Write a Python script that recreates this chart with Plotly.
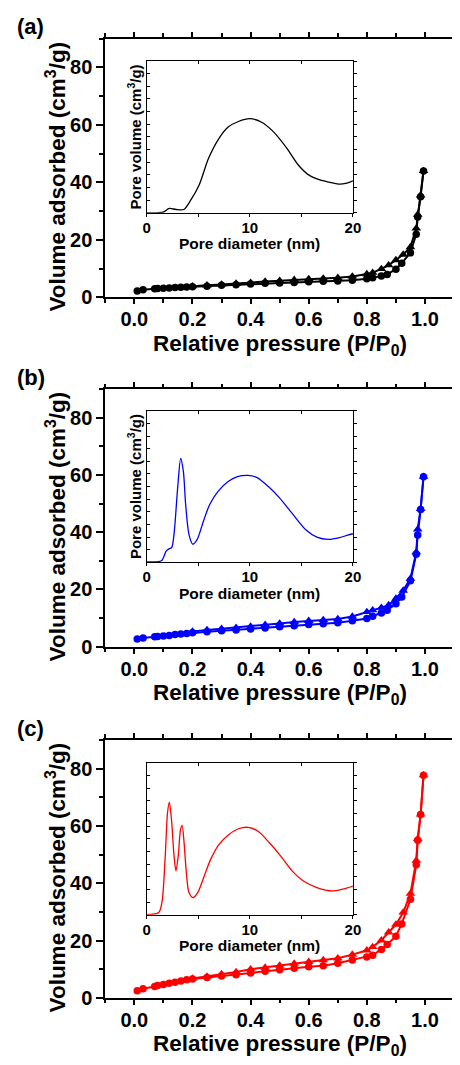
import plotly.graph_objects as go

W, H = 460, 1065

# Relative pressure points (P/P0) of the adsorption and desorption branches
p_ads = [0.01, 0.03, 0.07, 0.08, 0.10, 0.12, 0.14, 0.16, 0.18, 0.20, 0.25, 0.30,
         0.35, 0.40, 0.45, 0.50, 0.55, 0.60, 0.65, 0.70, 0.75, 0.80, 0.82, 0.85,
         0.87, 0.90, 0.92, 0.95, 0.97, 0.975, 0.985, 0.995]
p_des = [0.995, 0.985, 0.975, 0.97, 0.95, 0.925, 0.90, 0.875, 0.85, 0.82, 0.80,
         0.75, 0.70, 0.65, 0.60, 0.55, 0.50, 0.45, 0.40, 0.35, 0.30, 0.25, 0.20]

# Volume adsorbed (cm3/g)
ads_a = [2.2, 2.7, 3.0, 3.1, 3.2, 3.3, 3.4, 3.5, 3.6, 3.7, 3.9, 4.2, 4.4, 4.7, 4.9,
         5.0, 5.2, 5.4, 5.6, 5.7, 6.0, 6.5, 6.8, 7.4, 8.0, 9.8, 11.9, 15.5, 22.0,
         28.0, 35.0, 44.0]
des_a = [44.0, 35.5, 28.8, 24.0, 17.5, 14.9, 13.0, 11.2, 9.9, 8.6, 8.1, 7.3, 6.8,
         6.6, 6.4, 6.1, 5.8, 5.5, 5.1, 4.8, 4.5, 4.2, 3.9]

ads_b = [2.6, 3.0, 3.4, 3.5, 3.7, 3.9, 4.2, 4.4, 4.6, 4.8, 5.2, 5.5, 5.8, 6.1, 6.5,
         6.9, 7.3, 7.7, 8.0, 8.3, 9.0, 9.8, 10.6, 11.7, 12.7, 15.0, 17.3, 23.0,
         32.3, 39.0, 47.9, 59.4]
des_b = [59.4, 48.2, 41.0, 33.0, 23.8, 19.6, 16.8, 14.5, 13.6, 12.7, 12.1, 10.5,
         9.6, 9.3, 9.0, 8.6, 8.1, 7.6, 7.0, 6.6, 6.2, 5.8, 5.3]

ads_c = [2.5, 3.2, 4.0, 4.3, 4.7, 5.1, 5.5, 5.9, 6.3, 6.6, 7.1, 7.6, 8.1, 8.7, 9.3,
         9.8, 10.3, 10.9, 11.2, 12.1, 13.2, 14.3, 14.9, 16.9, 18.6, 21.5, 25.8,
         34.4, 46.5, 55.0, 64.0, 77.7]
des_c = [77.7, 64.0, 55.5, 47.9, 36.4, 29.8, 25.6, 22.9, 20.1, 17.8, 16.6, 15.1,
         13.8, 13.2, 12.6, 12.0, 11.3, 10.6, 10.0, 9.0, 8.3, 7.5, 6.8]

# Pore size distributions (pore diameter in nm, pore volume in arbitrary units)
d_a = [0, 1.0, 1.6, 2.2, 2.85, 3.6, 4.3, 5.1, 6.0, 7.0, 7.9, 8.9, 10.0, 11.1, 12.3,
       13.6, 14.7, 15.7, 16.8, 17.7, 18.6, 19.3, 20]
pv_a = [0, 0, 0.05, 0.34, 0.26, 0.26, 1.04, 2.22, 4.31, 5.87, 6.78, 7.22, 7.44,
        7.18, 6.40, 5.09, 3.78, 3.00, 2.60, 2.42, 2.27, 2.32, 2.53]

d_b = [0, 1.42, 1.9, 2.2, 2.43, 2.68, 3.0, 3.3, 3.56, 3.78, 4.1, 4.47, 4.9, 5.5,
       6.1, 6.9, 7.9, 8.8, 9.8, 10.7, 11.8, 12.9, 14.2, 15.4, 16.5, 17.6, 18.7,
       19.5, 20]
pv_b = [0.05, 0.13, 0.91, 1.09, 1.18, 2.48, 5.87, 8.22, 7.18, 4.56, 2.22, 1.44,
        1.82, 3.26, 4.56, 5.60, 6.40, 6.78, 6.89, 6.71, 6.00, 5.09, 3.78, 2.60,
        2.00, 1.82, 1.96, 2.16, 2.27]

d_c = [0, 1.17, 1.48, 1.8, 2.02, 2.2, 2.43, 2.65, 2.84, 3.06, 3.28, 3.44, 3.63,
       3.85, 4.1, 4.48, 4.95, 5.58, 6.2, 7.0, 7.95, 8.9, 9.84, 10.8, 11.9, 13.0,
       14.1, 15.2, 16.5, 18.0, 19.0, 20]
pv_c = [0, 0.18, 0.97, 4.63, 8.03, 8.89, 7.27, 4.66, 3.46, 4.63, 6.72, 7.06, 5.65,
        3.30, 1.75, 1.36, 1.75, 3.06, 4.37, 5.54, 6.32, 6.79, 6.90, 6.59, 5.68,
        4.63, 3.46, 2.66, 2.15, 1.88, 2.02, 2.27]

panel_labels = ["(a)", "(b)", "(c)"]
colors = ["#000000", "#0000FF", "#FF0000"]

FONT = "Liberation Sans, Arial, sans-serif"
P_RANGE = [-0.1, 1.093]
V_RANGE = [0, 90]
D_RANGE = [0, 20]
PV_RANGE = [0, 12]


def fx(px):
    return px / W


def fy(px):
    return 1 - px / H


# pixel boxes of the panels: main (top, bottom), inset (top, bottom)
main_box = [(39.0, 300.5), (393.3, 653.3), (747.7, 1008.3)]
inset_box = [(61.7, 215.0), (415.0, 568.3), (770.7, 924.3)]
main_left, main_right = 104.0, 460.0
inset_left, inset_right = 146.5, 358.3

panels = [
    (ads_a, des_a, d_a, pv_a),
    (ads_b, des_b, d_b, pv_b),
    (ads_c, des_c, d_c, pv_c),
]

fig = go.Figure()
layout = {}
annotations = []


def bold(size):
    return dict(family=FONT, size=size, color="black", weight="bold")


for i, (ads, des, dd, pv) in enumerate(panels):
    col = colors[i]
    mname = "" if i == 0 else str(2 * i + 1)   # main isotherm axes
    iname = str(2 * i + 2)                      # inset axes
    oname = str(7 + i)                          # inset top/right frame axes

    # isotherm: adsorption (circles) and desorption (triangles)
    fig.add_trace(go.Scatter(
        x=p_ads, y=ads, mode="lines+markers",
        line=dict(color=col, width=2),
        marker=dict(symbol="circle", size=7.5, color=col),
        xaxis="x" + mname, yaxis="y" + mname, showlegend=False))
    fig.add_trace(go.Scatter(
        x=p_des, y=des, mode="lines+markers",
        line=dict(color=col, width=2),
        marker=dict(symbol="triangle-up", size=8.5, color=col),
        xaxis="x" + mname, yaxis="y" + mname, showlegend=False))
    # pore size distribution
    fig.add_trace(go.Scatter(
        x=dd, y=pv, mode="lines",
        line=dict(color=col, width=1.3, shape="spline", smoothing=0.8),
        xaxis="x" + iname, yaxis="y" + iname, showlegend=False))
    # empty trace that carries the inset's top and right frame axes
    fig.add_trace(go.Scatter(
        x=[], y=[], mode="lines", hoverinfo="skip",
        xaxis="x" + oname, yaxis="y" + oname, showlegend=False))

    mt, mb = main_box[i]
    it, ib = inset_box[i]

    layout["xaxis" + mname] = dict(
        domain=[fx(main_left), fx(main_right)], range=P_RANGE,
        anchor="y" + mname, dtick=0.2, tick0=0, tickformat=".1f",
        ticks="outside", ticklen=5, tickwidth=2, tickcolor="black",
        minor=dict(dtick=0.1, tick0=0, ticks="outside", ticklen=3.5,
                   tickwidth=2, tickcolor="black"),
        showline=True, linewidth=2, linecolor="black", mirror="ticks",
        showgrid=False, zeroline=False, ticklabelstandoff=-2,
        tickfont=bold(20))
    layout["yaxis" + mname] = dict(
        domain=[fy(mb), fy(mt)], range=V_RANGE, anchor="x" + mname,
        dtick=20, tick0=0,
        ticks="outside", ticklen=7, tickwidth=2, tickcolor="black",
        minor=dict(dtick=10, tick0=0, ticks="outside", ticklen=4.5,
                   tickwidth=2, tickcolor="black"),
        showline=True, linewidth=2, linecolor="black", mirror=False,
        showgrid=False, zeroline=False,
        tickfont=bold(20))

    # inset frame: bottom/right ticks point outwards, top/left point inwards
    inset_x = dict(
        range=D_RANGE, dtick=10, tick0=0, tickwidth=1, ticklen=3,
        tickcolor="black",
        showline=True, linewidth=1, linecolor="black",
        showgrid=False, zeroline=False)
    inset_y = dict(
        range=PV_RANGE, dtick=1, tick0=0, showticklabels=False,
        tickwidth=1, ticklen=3, tickcolor="black",
        showline=True, linewidth=1, linecolor="black",
        showgrid=False, zeroline=False)

    layout["xaxis" + iname] = dict(
        inset_x, domain=[fx(inset_left), fx(inset_right)],
        anchor="y" + iname, side="bottom", ticks="outside",
        minor=dict(dtick=5, tick0=0, ticks="outside", ticklen=3,
                   tickwidth=1, tickcolor="black"),
        ticklabelstandoff=-2, tickfont=bold(15))
    layout["yaxis" + iname] = dict(
        inset_y, domain=[fy(ib), fy(it)], anchor="x" + iname,
        side="left", ticks="inside")
    layout["xaxis" + oname] = dict(
        inset_x, overlaying="x" + iname, anchor="y" + iname, side="top",
        ticks="inside", showticklabels=False,
        minor=dict(dtick=5, tick0=0, ticks="inside", ticklen=3,
                   tickwidth=1, tickcolor="black"))
    layout["yaxis" + oname] = dict(
        inset_y, overlaying="y" + iname, anchor="x" + iname, side="right",
        ticks="outside")

    # panel label
    annotations.append(dict(
        text=panel_labels[i], xref="paper", yref="paper",
        x=fx(11), y=fy(mt - 12), xanchor="left", yanchor="middle",
        showarrow=False, font=bold(22)))
    # main axis titles
    annotations.append(dict(
        text="Relative pressure (P/P<sub>0</sub>)", xref="paper", yref="paper",
        x=fx(283), y=fy(mb + 48), xanchor="center", yanchor="middle",
        showarrow=False, font=bold(22.5)))
    annotations.append(dict(
        text="Volume adsorbed (cm<sup>3</sup>/g)", xref="paper", yref="paper",
        x=fx(53), y=fy((mt + mb) / 2 + 9), xanchor="center", yanchor="middle",
        textangle=-90, showarrow=False, font=bold(22.5)))
    # inset axis titles
    annotations.append(dict(
        text="Pore diameter (nm)", xref="paper", yref="paper",
        x=fx((inset_left + inset_right) / 2), y=fy(ib + 31),
        xanchor="center", yanchor="middle", showarrow=False,
        font=bold(15.5)))
    if i < 2:
        annotations.append(dict(
            text="Pore volume (cm<sup>3</sup>/g)", xref="paper", yref="paper",
            x=fx(134), y=fy((it + ib) / 2), xanchor="center", yanchor="middle",
            textangle=-90, showarrow=False, font=bold(15)))

fig.update_layout(
    width=W, height=H, margin=dict(l=0, r=0, t=0, b=0),
    paper_bgcolor="white", plot_bgcolor="white",
    annotations=annotations, **layout)

fig.write_html("out.html", config={"displayModeBar": False})
